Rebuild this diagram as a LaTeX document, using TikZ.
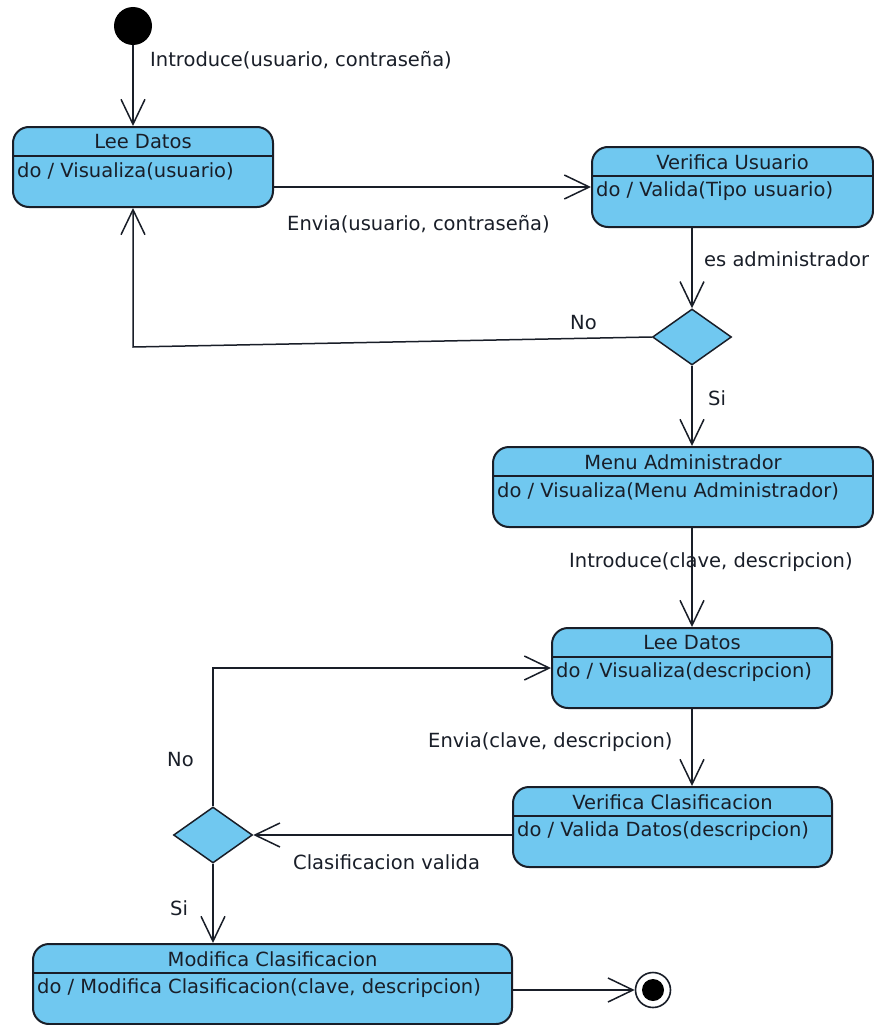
\documentclass[tikz,border=0pt]{standalone}
\usepackage{fontspec}
\setmainfont{DejaVu Sans}
\usetikzlibrary{arrows.meta,shapes.geometric,calc}
\definecolor{statefill}{RGB}{112,200,240}
\definecolor{edge}{RGB}{25,30,40}

% state with a name compartment and an activity compartment
\newcommand\umlstate[6]{% name, x, y, width, title, activity
  \node[statebox, minimum width=#4pt] (#1) at (#2,#3) {};
  \draw[edge, line width=1.5pt] ($(#1.north west)+(0,30)$) -- ($(#1.north east)+(0,30)$);
  \node (#1-t) at ($(#1.north)+(0,16)$) {#5};
  \node[anchor=west, inner sep=0pt] (#1-d) at ($(#1.north west)+(5,45)$) {#6};
}

\begin{document}
\begin{tikzpicture}[x=1pt,y=-1pt,
  every node/.style={font=\fontsize{19.5}{23}\selectfont, text=edge},
  statebox/.style={draw=edge, line width=2pt, fill=statefill, rounded corners=16pt, minimum height=80pt, inner sep=0pt},
  choice/.style={diamond, draw=edge, line width=1.5pt, fill=statefill, minimum width=79pt, minimum height=56pt, inner sep=0pt},
  flow/.style={draw=edge, line width=1.5pt, -{Straight Barb[length=25pt,width=24pt]}},
  lbl/.style={anchor=west, inner sep=0pt},
]
\useasboundingbox[fill=white] (0,0) rectangle (874,1025);

% pseudo states
\node[circle, fill=black, minimum size=38pt, inner sep=0pt] (init) at (133,26) {};
\node[circle, draw=edge, line width=1.6pt, fill=white, minimum size=35pt, inner sep=0pt] (fin) at (653,990) {};
\node[circle, fill=black, minimum size=22pt, inner sep=0pt] (fin-in) at (fin) {};

% states
\umlstate{ld1}{143}{167}{260}{Lee Datos}{do / Visualiza(usuario)}
\umlstate{vu}{732.5}{187}{281}{Verifica Usuario}{do / Valida(Tipo usuario)}
\umlstate{menu}{683}{487}{380}{Menu Administrador}{do / Visualiza(Menu Administrador)}
\umlstate{ld2}{692}{668}{280}{Lee Datos}{do / Visualiza(descripcion)}
\umlstate{vc}{672.5}{827}{319}{Verifica Clasificacion}{do / Valida Datos(descripcion)}
\umlstate{mc}{272.5}{984}{479}{Modifica Clasificacion}{do / Modifica Clasificacion(clave, descripcion)}

% decisions
\node[choice] (d1) at (692,337) {};
\node[choice] (d2) at (213,835) {};

% transitions
\coordinate (back1) at (133,347);
\draw[flow] (init.south) -- (init.south |- ld1.north);
\draw[flow] (ld1.east |- vu.west) -- (vu.west);
\draw[flow] (d1.north |- vu.south) -- (d1.north);
\draw[flow] (d1.west) -- (back1) -- (back1 |- ld1.south);
\draw[flow] (d1.south) -- (d1.south |- menu.north);
\draw[flow] (ld2.north |- menu.south) -- (ld2.north);
\draw[flow] (ld2.south) -- (ld2.south |- vc.north);
\draw[flow] (d2.east -| vc.west) -- (d2.east);
\draw[flow] (d2.north) |- (ld2.west);
\draw[flow] (d2.south) -- (d2.south |- mc.north);
\draw[flow] (fin -| mc.east) -- (fin.west);

% transition labels
\node[lbl] (t1) at (150,60) {Introduce(usuario, contraseña)};
\node[lbl] (t2) at (287,224) {Envia(usuario, contraseña)};
\node[lbl] (t3) at (704,259) {es administrador};
\node[lbl] (t4) at (570,323) {No};
\node[lbl] (t5) at (708,398) {Si};
\node[lbl] (t6) at (569,562) {Introduce(clave, descripcion)};
\node[lbl] (t7) at (428,742) {Envia(clave, descripcion)};
\node[lbl] (t8) at (167,760) {No};
\node[lbl] (t9) at (293,862) {Clasificacion valida};
\node[lbl] (t10) at (170,908) {Si};
\end{tikzpicture}
\end{document}
